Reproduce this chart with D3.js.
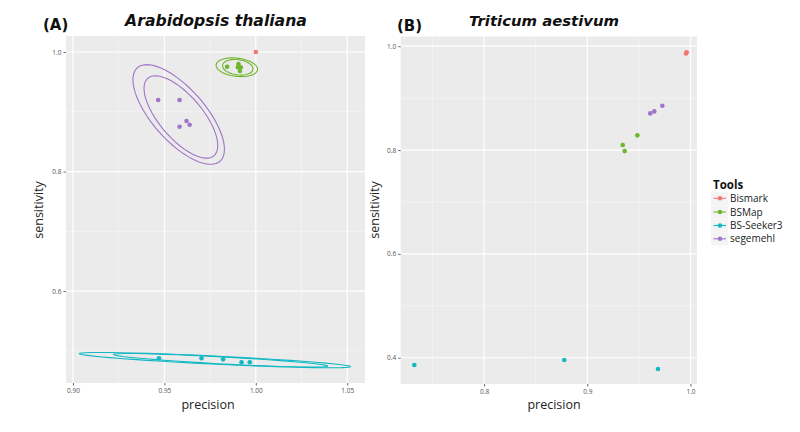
<!DOCTYPE html>
<html><head><meta charset="utf-8">
<script src="https://cdn.jsdelivr.net/npm/d3@7"></script>
<style>body{margin:0;background:#fff}svg{display:block}</style>
</head><body>
<svg id="chart" width="800" height="432"></svg>
<script>
// ---------- data ----------
const tools = ["Bismark", "BSMap", "BS-Seeker3", "segemehl"];
const toolColors = ["#f3766e", "#6fb52c", "#12b8c3", "#a074c8"];

// Panel A: Arabidopsis thaliana
const aBismarkPrecision = [1.000];
const aBismarkSensitivity = [1.000];
const aBSMapPrecision = [0.9843, 0.9905, 0.9902, 0.9918, 0.9913];
const aBSMapSensitivity = [0.9754, 0.9800, 0.9744, 0.9744, 0.9682];
const aSeekerPrecision = [0.9470, 0.9703, 0.9821, 0.9922, 0.9967];
const aSeekerSensitivity = [0.4874, 0.4874, 0.4857, 0.4807, 0.4807];
const aSegemehlPrecision = [0.9466, 0.9583, 0.9621, 0.9638, 0.9583];
const aSegemehlSensitivity = [0.9197, 0.9197, 0.8845, 0.8783, 0.8750];

// Panel B: Triticum aestivum
const bBismarkPrecision = [0.9956, 0.9962];
const bBismarkSensitivity = [0.9860, 0.9885];
const bBSMapPrecision = [0.9485, 0.9343, 0.9362];
const bBSMapSensitivity = [0.8283, 0.8096, 0.7980];
const bSeekerPrecision = [0.7324, 0.8777, 0.9685];
const bSeekerSensitivity = [0.3860, 0.3956, 0.3783];
const bSegemehlPrecision = [0.9610, 0.9649, 0.9727];
const bSegemehlSensitivity = [0.8706, 0.8744, 0.8854];

// axes
const aXTicks = [0.90, 0.95, 1.00, 1.05];
const aXMinor = [0.925, 0.975, 1.025];
const aYTicks = [0.6, 0.8, 1.0];
const aYMinor = [0.5, 0.7, 0.9];
const aXDomain = [0.8962, 1.0597];
const aYDomain = [0.4461, 1.0268];

const bXTicks = [0.8, 0.9, 1.0];
const bXMinor = [0.75, 0.85, 0.95];
const bYTicks = [0.4, 0.6, 0.8, 1.0];
const bYMinor = [0.5, 0.7, 0.9];
const bXDomain = [0.7192, 1.0063];
const bYDomain = [0.3494, 1.0187];

// ---------- helpers ----------
function zipPts(xs, ys) { return xs.map((x, i) => [x, ys[i]]); }

function covNorm(pts) {
  const n = pts.length;
  const mx = d3.mean(pts, d => d[0]), my = d3.mean(pts, d => d[1]);
  let a = 0, b = 0, c = 0;
  pts.forEach(d => { const dx = d[0] - mx, dy = d[1] - my; a += dx*dx; b += dx*dy; c += dy*dy; });
  return { center: [mx, my], cov: [a/(n-1), b/(n-1), c/(n-1)] };
}
// port of MASS::cov.trob
function covTrob(pts, nu = 5, maxit = 25, tol = 0.01) {
  const n = pts.length, p = 2;
  let loc = [d3.mean(pts, d => d[0]), d3.mean(pts, d => d[1])];
  let w = pts.map(() => 1);
  let X;
  for (let it = 0; it < maxit; it++) {
    const w0 = w.slice();
    X = pts.map(d => [d[0] - loc[0], d[1] - loc[1]]);
    const sw = d3.sum(w);
    let a = 0, b = 0, c = 0;
    X.forEach((x, i) => { a += w[i]/sw*x[0]*x[0]; b += w[i]/sw*x[0]*x[1]; c += w[i]/sw*x[1]*x[1]; });
    const det = a*c - b*b;
    const ia = c/det, ib = -b/det, ic = a/det;
    const Q = X.map(x => ia*x[0]*x[0] + 2*ib*x[0]*x[1] + ic*x[1]*x[1]);
    w = Q.map(q => (nu + p) / (nu + q));
    const sw2 = d3.sum(w);
    loc = [d3.sum(pts, (d, i) => w[i]*d[0]) / sw2, d3.sum(pts, (d, i) => w[i]*d[1]) / sw2];
    if (w.every((v, i) => Math.abs(v - w0[i]) < tol)) break;
  }
  let a = 0, b = 0, c = 0;
  X.forEach((x, i) => { a += w[i]*x[0]*x[0]; b += w[i]*x[0]*x[1]; c += w[i]*x[1]*x[1]; });
  return { center: loc, cov: [a/n, b/n, c/n] };
}
function ellipsePts(pts, type, level = 0.95, segments = 51) {
  const v = type === "t" ? covTrob(pts) : covNorm(pts);
  const [a, b, c] = v.cov;
  const r11 = Math.sqrt(a), r12 = b / r11, r22 = Math.sqrt(c - r12*r12);
  const dfd = pts.length - 1;
  const qf = (dfd/2) * (Math.pow(1 - level, -2/dfd) - 1);   // F(2, dfd) quantile
  const radius = Math.sqrt(2 * qf);
  const out = [];
  for (let i = 0; i <= segments; i++) {
    const t = i * 2 * Math.PI / segments;
    const ct = Math.cos(t), st = Math.sin(t);
    out.push([v.center[0] + radius*ct*r11, v.center[1] + radius*(ct*r12 + st*r22)]);
  }
  return out;
}

const svg = d3.select("#chart");
svg.append("rect").attr("width", 800).attr("height", 432).attr("fill", "#ffffff");
const FONT = "'Open Sans', 'DejaVu Sans', sans-serif";

function panel(cfg) {
  const x = d3.scaleLinear().domain(cfg.xDomain).range([cfg.left, cfg.right]);
  const y = d3.scaleLinear().domain(cfg.yDomain).range([cfg.bottom, cfg.top]);
  const g = svg.append("g");
  g.append("rect").attr("x", cfg.left).attr("y", cfg.top)
    .attr("width", cfg.right - cfg.left).attr("height", cfg.bottom - cfg.top).attr("fill", "#ebebeb");
  const clipId = "clip" + cfg.id;
  svg.append("clipPath").attr("id", clipId).append("rect").attr("x", cfg.left).attr("y", cfg.top)
    .attr("width", cfg.right - cfg.left).attr("height", cfg.bottom - cfg.top);
  // minor grid
  g.selectAll(null).data(cfg.xMinor).join("line").attr("x1", d => x(d)).attr("x2", d => x(d))
    .attr("y1", cfg.top).attr("y2", cfg.bottom).attr("stroke", "#f6f6f6").attr("stroke-width", 0.6);
  g.selectAll(null).data(cfg.yMinor).join("line").attr("y1", d => y(d)).attr("y2", d => y(d))
    .attr("x1", cfg.left).attr("x2", cfg.right).attr("stroke", "#f6f6f6").attr("stroke-width", 0.6);
  // major grid
  g.selectAll(null).data(cfg.xTicks).join("line").attr("x1", d => x(d)).attr("x2", d => x(d))
    .attr("y1", cfg.top).attr("y2", cfg.bottom).attr("stroke", "#ffffff").attr("stroke-width", 1.2);
  g.selectAll(null).data(cfg.yTicks).join("line").attr("y1", d => y(d)).attr("y2", d => y(d))
    .attr("x1", cfg.left).attr("x2", cfg.right).attr("stroke", "#ffffff").attr("stroke-width", 1.2);

  // axes
  const xa = g.append("g").attr("transform", `translate(0,${cfg.bottom})`)
    .call(d3.axisBottom(x).tickValues(cfg.xTicks).tickFormat(d3.format(cfg.xFmt)).tickSize(2.5).tickPadding(2.5));
  const ya = g.append("g").attr("transform", `translate(${cfg.left},0)`)
    .call(d3.axisLeft(y).tickValues(cfg.yTicks).tickFormat(d3.format(".1f")).tickSize(2.5).tickPadding(2));
  [xa, ya].forEach(a => {
    a.select(".domain").remove();
    a.selectAll(".tick line").attr("stroke", "#444").attr("stroke-width", 0.8);
    a.selectAll(".tick text").attr("fill", "#555").attr("font-size", 6.5).attr("font-family", FONT);
  });

  // ellipses
  const line = d3.line().x(d => x(d[0])).y(d => y(d[1]));
  const eg = g.append("g").attr("clip-path", `url(#${clipId})`);
  cfg.series.forEach((s, i) => {
    const pts = zipPts(s.px, s.py);
    if (cfg.ellipses && pts.length >= 4) {
      ["t", "norm"].forEach(tp => {
        eg.append("path").attr("d", line(ellipsePts(pts, tp))).attr("fill", "none")
          .attr("stroke", toolColors[i]).attr("stroke-width", 1.1);
      });
    }
  });
  cfg.series.forEach((s, i) => {
    eg.selectAll(null).data(zipPts(s.px, s.py)).join("circle")
      .attr("cx", d => x(d[0])).attr("cy", d => y(d[1])).attr("r", 2.3).attr("fill", toolColors[i]);
  });

  // labels
  g.append("text").attr("x", cfg.xLabelX).attr("y", 409).attr("text-anchor", "middle")
    .attr("font-family", FONT).attr("font-size", 12.5).attr("fill", "#222").text("precision");
  g.append("text").attr("transform", `translate(${cfg.yLabelX},210) rotate(-90)`).attr("text-anchor", "middle")
    .attr("font-family", FONT).attr("font-size", 12.5).attr("fill", "#222").text("sensitivity");
  g.append("text").attr("x", cfg.tagX).attr("y", cfg.tagY).attr("font-family", "'DejaVu Sans', sans-serif")
    .attr("font-weight", "bold").attr("font-size", 15).attr("fill", "#111").text(cfg.tag);
  const title = g.append("text").attr("x", cfg.titleX).attr("y", 25.5).attr("text-anchor", "middle")
    .attr("font-family", "'DejaVu Sans', sans-serif").attr("font-weight", "bold").attr("font-style", "italic")
    .attr("font-size", 15).attr("fill", "#111").text(cfg.title);
  const w = title.node().getComputedTextLength();
  title.attr("font-size", 15 * cfg.titleW / w);
}

panel({
  id: "A", left: 66, right: 365, top: 36, bottom: 383,
  xDomain: aXDomain, yDomain: aYDomain, xTicks: aXTicks, xMinor: aXMinor, yTicks: aYTicks, yMinor: aYMinor,
  xFmt: ".2f", ellipses: true,
  series: [
    { px: aBismarkPrecision, py: aBismarkSensitivity },
    { px: aBSMapPrecision, py: aBSMapSensitivity },
    { px: aSeekerPrecision, py: aSeekerSensitivity },
    { px: aSegemehlPrecision, py: aSegemehlSensitivity }
  ],
  xLabelX: 208, yLabelX: 43, tag: "(A)", tagX: 43, tagY: 29.5,
  title: "Arabidopsis thaliana", titleX: 216, titleW: 182
});
panel({
  id: "B", left: 400.7, right: 697, top: 36.5, bottom: 384,
  xDomain: bXDomain, yDomain: bYDomain, xTicks: bXTicks, xMinor: bXMinor, yTicks: bYTicks, yMinor: bYMinor,
  xFmt: ".1f", ellipses: false,
  series: [
    { px: bBismarkPrecision, py: bBismarkSensitivity },
    { px: bBSMapPrecision, py: bBSMapSensitivity },
    { px: bSeekerPrecision, py: bSeekerSensitivity },
    { px: bSegemehlPrecision, py: bSegemehlSensitivity }
  ],
  xLabelX: 554, yLabelX: 379, tag: "(B)", tagX: 397, tagY: 31,
  title: "Triticum aestivum", titleX: 544, titleW: 150
});

// legend
const lg = svg.append("g");
lg.append("text").attr("x", 713).attr("y", 188.5).attr("font-family", FONT).attr("font-weight", "bold")
  .attr("font-size", 11.5).attr("fill", "#111").text("Tools");
const legY = [198.3, 212, 225.5, 238.8];
tools.forEach((t, i) => {
  const cy = legY[i];
  lg.append("rect").attr("x", 711).attr("y", cy - 6.5).attr("width", 17).attr("height", 13).attr("fill", "#f4f4f4");
  lg.append("line").attr("x1", 713.5).attr("x2", 726).attr("y1", cy).attr("y2", cy)
    .attr("stroke", toolColors[i]).attr("stroke-width", 1.1);
  lg.append("circle").attr("cx", 720).attr("cy", cy).attr("r", 2.2).attr("fill", toolColors[i]);
  lg.append("text").attr("x", 730).attr("y", cy).attr("dy", "0.35em").attr("font-family", FONT)
    .attr("font-size", 10).attr("fill", "#222").text(t);
});
</script>
</body></html>
